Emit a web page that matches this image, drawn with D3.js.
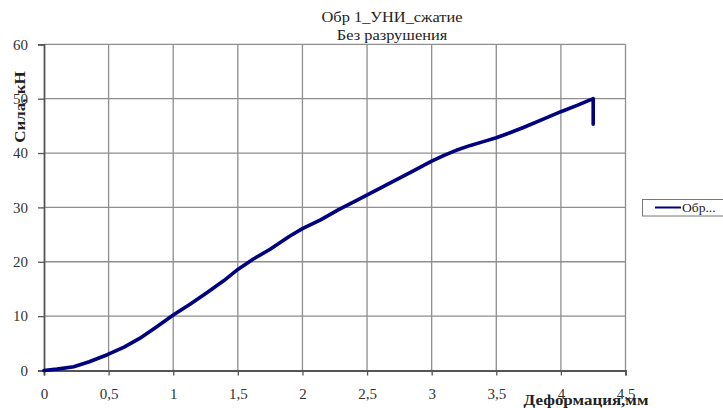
<!DOCTYPE html>
<html>
<head>
<meta charset="utf-8">
<script src="https://cdn.jsdelivr.net/npm/d3@7"></script>
<style>
  html, body { margin: 0; padding: 0; background: #fff; }
  svg { display: block; font-family: "Liberation Serif", "DejaVu Serif", serif; }
</style>
</head>
<body>
<svg id="chart" width="723" height="408"></svg>
<script>
// Load–deformation curve of specimen 1 (compression, no failure)
const deformation = [0, 0.1, 0.23, 0.35, 0.49, 0.62, 0.74, 0.87, 1.0, 1.13, 1.26, 1.39, 1.5, 1.62, 1.75, 1.9,
  2.0, 2.14, 2.28, 2.42, 2.55, 2.68, 2.84, 3.0, 3.1, 3.19, 3.3, 3.4, 3.5, 3.58, 3.71, 3.85, 4.0, 4.13, 4.25, 4.25];
const force = [0, 0.25, 0.7, 1.6, 2.9, 4.3, 5.9, 8.0, 10.2, 12.2, 14.3, 16.5, 18.6, 20.5, 22.3, 24.7,
  26.1, 27.7, 29.6, 31.3, 32.9, 34.5, 36.5, 38.5, 39.6, 40.5, 41.4, 42.1, 42.8, 43.5, 44.7, 46.1, 47.6, 48.8, 50.0, 45.3];

const xTicks = [0, 0.5, 1, 1.5, 2, 2.5, 3, 3.5, 4, 4.5];
const yTicks = [0, 10, 20, 30, 40, 50, 60];
const titleLines = ["Обр 1_УНИ_сжатие", "Без разрушения"];
const xTitle = "Деформация,мм";
const yTitle = "Сила, кН";
const seriesName = "Обр...";

const svg = d3.select("#chart");
const plot = { left: 44, right: 625.5, top: 44.3, bottom: 370.5 };
const stretch = 1.13; // text is set slightly wide

const x = d3.scaleLinear().domain([0, 4.5]).range([plot.left, plot.right]);
const y = d3.scaleLinear().domain([0, 60]).range([plot.bottom, plot.top]);
const fmt = d => String(d).replace(".", ",");

// grid
const grid = svg.append("g").attr("stroke", "#8e8e8e").attr("stroke-width", 1.3);
grid.selectAll("line.v").data(xTicks.slice(1)).join("line")
  .attr("x1", d => x(d)).attr("x2", d => x(d))
  .attr("y1", plot.top).attr("y2", plot.bottom);
grid.selectAll("line.h").data(yTicks.slice(1)).join("line")
  .attr("x1", plot.left).attr("x2", plot.right)
  .attr("y1", d => y(d)).attr("y2", d => y(d));

// axes
const xAxis = svg.append("g").attr("transform", `translate(0,${plot.bottom})`)
  .call(d3.axisBottom(x).tickValues(xTicks).tickFormat(fmt).tickSize(5).tickPadding(13));
const yAxis = svg.append("g").attr("transform", `translate(${plot.left},0)`)
  .call(d3.axisLeft(y).tickValues(yTicks).tickSize(6).tickPadding(10));
[xAxis, yAxis].forEach(a => {
  a.select(".domain").attr("stroke", "#555").attr("stroke-width", 1.8);
  a.selectAll(".tick line").attr("stroke", "#555").attr("stroke-width", 1.3);
  a.selectAll(".tick text").attr("fill", "#333").attr("font-size", 15)
    .attr("font-family", "'Liberation Serif', serif");
});

// curve
const pts = deformation.map((d, i) => [d, force[i]]);
svg.append("path").datum(pts)
  .attr("fill", "none").attr("stroke", "#000080").attr("stroke-width", 3.6)
  .attr("stroke-linejoin", "round").attr("stroke-linecap", "round")
  .attr("d", d3.line().x(d => x(d[0])).y(d => y(d[1])));

// titles
svg.append("g").selectAll("text").data(titleLines).join("text")
  .attr("transform", (d, i) => `translate(392,${22 + i * 18}) scale(${stretch},1)`)
  .attr("text-anchor", "middle").attr("font-size", 14.5).attr("fill", "#222")
  .text(d => d);

svg.append("text").attr("transform", `translate(586,405) scale(${stretch},1)`)
  .attr("text-anchor", "middle").attr("font-size", 15).attr("font-weight", "bold").attr("fill", "#222")
  .text(xTitle);

svg.append("text").attr("transform", `translate(25,107) rotate(-90) scale(${stretch},1)`)
  .attr("text-anchor", "middle").attr("font-size", 15).attr("font-weight", "bold").attr("fill", "#222")
  .text(yTitle);

// legend
const lg = svg.append("g");
lg.append("rect").attr("x", 642.5).attr("y", 199.5).attr("width", 90).attr("height", 16.5)
  .attr("fill", "#fff").attr("stroke", "#777").attr("stroke-width", 1);
lg.append("line").attr("x1", 655).attr("x2", 681).attr("y1", 207.5).attr("y2", 207.5)
  .attr("stroke", "#000080").attr("stroke-width", 2);
lg.append("text").attr("transform", `translate(682,212) scale(${stretch},1)`)
  .attr("font-size", 12).attr("fill", "#222").text(seriesName);
</script>
</body>
</html>
